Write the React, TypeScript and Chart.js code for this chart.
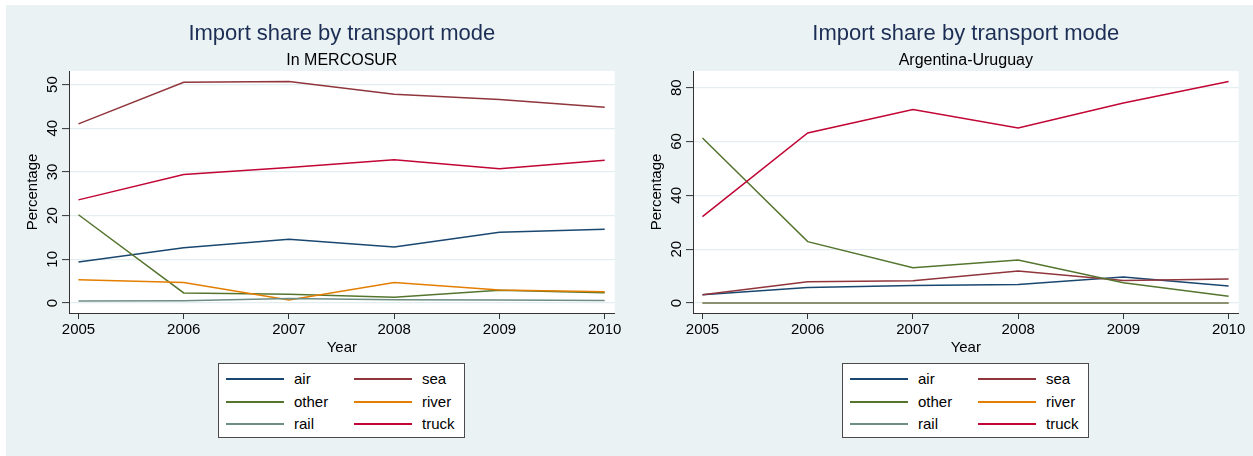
import React, { useEffect, useRef } from "react";
import { Chart, registerables } from "chart.js";
Chart.register(...registerables);

const YEARS = [2005, 2006, 2007, 2008, 2009, 2010];
const SERIES_NAMES = ["air", "sea", "other", "river", "rail", "truck"];
const SERIES_COLORS = ["#1a476f", "#90353b", "#55752f", "#e37e00", "#6e8e84", "#c10534"];

const MERCOSUR_AIR = [9.4, 12.65, 14.6, 12.8, 16.2, 16.9];
const MERCOSUR_SEA = [41.0, 50.5, 50.7, 47.8, 46.6, 44.8];
const MERCOSUR_OTHER = [20.2, 2.3, 2.0, 1.3, 2.9, 2.35];
const MERCOSUR_RIVER = [5.3, 4.7, 0.7, 4.7, 3.0, 2.6];
const MERCOSUR_RAIL = [0.45, 0.5, 1.05, 0.75, 0.7, 0.55];
const MERCOSUR_TRUCK = [23.6, 29.4, 31.0, 32.8, 30.7, 32.7];

const ARUY_AIR = [3.1, 5.8, 6.5, 6.9, 9.7, 6.3];
const ARUY_SEA = [3.1, 7.9, 8.3, 11.85, 8.4, 8.9];
const ARUY_OTHER = [61.3, 22.8, 13.1, 16.0, 7.5, 2.5];
const ARUY_RIVER = [0, 0, 0, 0, 0, 0];
const ARUY_RAIL = [0, 0, 0, 0, 0, 0];
const ARUY_TRUCK = [32.1, 63.2, 71.9, 65.0, 74.3, 82.3];

const LEFT_Y_TICKS = [0, 10, 20, 30, 40, 50];
const RIGHT_Y_TICKS = [0, 20, 40, 60, 80];

const TITLE = "Import share by transport mode";
const LEFT_SUBTITLE = "In MERCOSUR";
const RIGHT_SUBTITLE = "Argentina-Uruguay";
const X_TITLE = "Year";
const Y_TITLE = "Percentage";

const BG = "#eaf2f3";
const GRID = "#e4edef";
const AXIS = "#333333";
const TITLE_COLOR = "#1c2e55";
const FONT = "'Liberation Sans', Arial, Helvetica, sans-serif";

type PanelProps = {
  x: number;
  width: number;
  rightPad: number;
  subtitle: string;
  series: number[][];
  yMin: number;
  yMax: number;
  yTicks: number[];
};

const bgPlugin = {
  id: "stataBg",
  beforeDraw(chart: any) {
    const { ctx, chartArea, width, height } = chart;
    ctx.save();
    ctx.fillStyle = BG;
    ctx.fillRect(0, 0, width, height);
    ctx.fillStyle = "#ffffff";
    ctx.fillRect(chartArea.left, chartArea.top, chartArea.right - chartArea.left, chartArea.bottom - chartArea.top);
    ctx.restore();
  },
};

const yLabelPlugin = {
  id: "rotatedYLabels",
  afterDraw(chart: any) {
    const s = chart.scales.y;
    const ctx = chart.ctx;
    ctx.save();
    ctx.font = `15px ${FONT}`;
    ctx.fillStyle = "#000";
    ctx.textAlign = "center";
    ctx.textBaseline = "alphabetic";
    const bx = s.right - 7 - 5.5;
    for (const t of s.ticks) {
      const y = s.getPixelForValue(t.value);
      ctx.save();
      ctx.translate(bx, y);
      ctx.rotate(-Math.PI / 2);
      ctx.fillText(String(t.value), 0, 0);
      ctx.restore();
    }
    ctx.restore();
  },
};

function Panel({ x, width, rightPad, subtitle, series, yMin, yMax, yTicks }: PanelProps) {
  const ref = useRef<HTMLCanvasElement>(null);
  useEffect(() => {
    const chart = new Chart(ref.current as HTMLCanvasElement, {
      type: "line",
      data: {
        datasets: series.map((vals, i) => ({
          label: SERIES_NAMES[i],
          data: YEARS.map((yr, j) => ({ x: yr, y: vals[j] })),
          borderColor: SERIES_COLORS[i],
          backgroundColor: SERIES_COLORS[i],
          borderWidth: 1.5,
          pointRadius: 0,
          tension: 0,
          fill: false,
          order: -i,
        })),
      },
      options: {
        responsive: false,
        animation: false,
        events: [],
        layout: { padding: { left: 10, right: rightPad, top: 0, bottom: 7 } },
        plugins: {
          legend: { display: false },
          tooltip: { enabled: false },
          title: {
            display: true,
            text: TITLE,
            fullSize: false,
            color: TITLE_COLOR,
            font: { family: FONT, size: 22, weight: "normal", lineHeight: 1.2 },
            padding: { top: 15.6, bottom: 0 },
          },
          subtitle: {
            display: true,
            text: subtitle,
            fullSize: false,
            color: "#000",
            font: { family: FONT, size: 16, weight: "normal", lineHeight: 1.2 },
            padding: { top: 3.6, bottom: 1.2 },
          },
        },
        scales: {
          x: {
            type: "linear",
            min: 2004.91,
            max: 2010.095,
            afterBuildTicks: (s: any) => {
              s.ticks = YEARS.map((v) => ({ value: v }));
            },
            afterFit: (s: any) => {
              s.height = 45;
            },
            grid: { drawOnChartArea: false, drawTicks: true, tickLength: 6, tickColor: AXIS, tickWidth: 1 },
            border: { display: true, color: AXIS, width: 1 },
            ticks: {
              color: "#000",
              font: { family: FONT, size: 15, lineHeight: 1.2 },
              padding: 1.5,
              maxRotation: 0,
              minRotation: 0,
              autoSkip: false,
              callback: (v: any) => String(v),
            },
            title: {
              display: true,
              text: X_TITLE,
              color: "#000",
              font: { family: FONT, size: 15, lineHeight: 1.2 },
              padding: { top: 0, bottom: 1.5 },
            },
          },
          y: {
            type: "linear",
            min: yMin,
            max: yMax,
            afterBuildTicks: (s: any) => {
              s.ticks = yTicks.map((v) => ({ value: v }));
            },
            afterFit: (s: any) => {
              s.width = 53;
            },
            grid: { color: GRID, lineWidth: 1.2, drawTicks: true, tickLength: 7, tickColor: AXIS, tickWidth: 1 },
            border: { display: true, color: AXIS, width: 1 },
            ticks: { display: false },
            title: {
              display: true,
              text: Y_TITLE,
              color: "#000",
              font: { family: FONT, size: 15, lineHeight: 1.2 },
              padding: { top: 8, bottom: 0 },
            },
          },
        },
      } as any,
      plugins: [bgPlugin, yLabelPlugin],
    });
    return () => chart.destroy();
  }, []);
  return (
    <canvas
      ref={ref}
      width={width}
      height={360}
      style={{ position: "absolute", left: x, top: 5, width, height: 360, display: "block" }}
    />
  );
}

function Legend({ x }: { x: number }) {
  const rows = [15, 38, 60];
  return (
    <div
      style={{
        position: "absolute",
        left: x,
        top: 363,
        width: 247,
        height: 75,
        boxSizing: "border-box",
        border: "1px solid #4a4a4a",
        background: "#fff",
        fontFamily: FONT,
        fontSize: 15,
        color: "#000",
      }}
    >
      {SERIES_NAMES.map((name, i) => {
        const col = i % 2;
        const row = Math.floor(i / 2);
        const cy = rows[row];
        return (
          <React.Fragment key={name}>
            <div
              style={{
                position: "absolute",
                left: 7 + col * 128,
                top: cy - 1,
                width: 58,
                height: 2,
                background: SERIES_COLORS[i],
              }}
            />
            <div
              style={{
                position: "absolute",
                left: 75 + col * 128,
                top: cy - 9,
                lineHeight: "18px",
                whiteSpace: "nowrap",
              }}
            >
              {name}
            </div>
          </React.Fragment>
        );
      })}
    </div>
  );
}

export default function App() {
  return (
    <div style={{ position: "absolute", left: 0, top: 0, width: 1253, height: 456, background: "#fff", overflow: "hidden" }}>
      <div style={{ position: "absolute", left: 6, top: 5, width: 1247, height: 451, background: BG }} />
      <Panel
        x={6}
        width={624}
        rightPad={15.3}
        subtitle={LEFT_SUBTITLE}
        series={[MERCOSUR_AIR, MERCOSUR_SEA, MERCOSUR_OTHER, MERCOSUR_RIVER, MERCOSUR_RAIL, MERCOSUR_TRUCK]}
        yMin={-2.29}
        yMax={53.1}
        yTicks={LEFT_Y_TICKS}
      />
      <Panel
        x={630}
        width={623}
        rightPad={14.4}
        subtitle={RIGHT_SUBTITLE}
        series={[ARUY_AIR, ARUY_SEA, ARUY_OTHER, ARUY_RIVER, ARUY_RAIL, ARUY_TRUCK]}
        yMin={-3.71}
        yMax={86.2}
        yTicks={RIGHT_Y_TICKS}
      />
      <Legend x={218} />
      <Legend x={842} />
    </div>
  );
}
